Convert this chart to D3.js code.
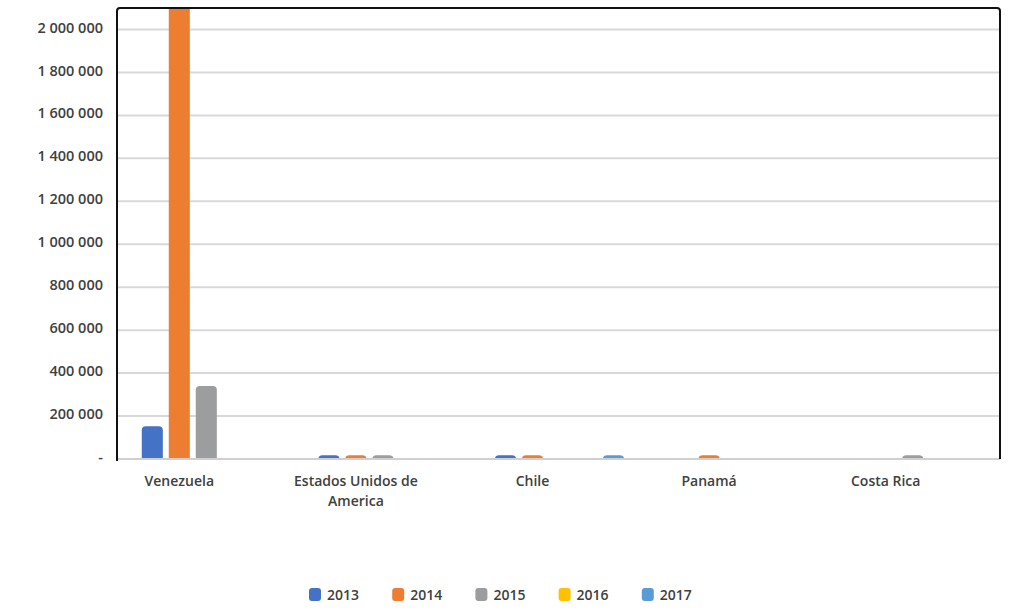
<!DOCTYPE html>
<html>
<head>
<meta charset="utf-8">
<script src="https://cdn.jsdelivr.net/npm/d3@7"></script>
<style>
  body { margin: 0; background: #fff; }
  text { font-family: "Open Sans", sans-serif; font-weight: 600; fill: #404040; }
</style>
</head>
<body>
<div id="chart"></div>
<script>
const countries = ["Venezuela", "Estados Unidos de America", "Chile", "Panamá", "Costa Rica"];
const years = ["2013", "2014", "2015", "2016", "2017"];
// one array per year, in the order of countries
const v2013 = [153000, 18000, 18000, 0, 0];
const v2014 = [2400000, 18000, 18000, 18000, 0];
const v2015 = [340000, 18000, 0, 0, 18000];
const v2016 = [0, 0, 0, 0, 0];
const v2017 = [0, 0, 18000, 0, 0];
const yTicks = [0, 200000, 400000, 600000, 800000, 1000000, 1200000, 1400000, 1600000, 1800000, 2000000];

const color = {
  "2013": "#4472c4",
  "2014": "#ed7d31",
  "2015": "#9b9d9e",
  "2016": "#ffc000",
  "2017": "#5b9bd5",
};

const series = { "2013": v2013, "2014": v2014, "2015": v2015, "2016": v2016, "2017": v2017 };
const rows = [];
countries.forEach((c, i) => years.forEach((yr) => rows.push({ country: c, year: yr, value: series[yr][i] })));

const width = 1021, height = 612,
  plotLeft = 117, plotRight = 1000, plotTop = 8, plotBottom = 459;

const svg = d3.select("#chart").append("svg").attr("width", width).attr("height", height);

const x = d3.scaleBand().domain(countries).range([91, 974]);
const xi = d3.scaleBand().domain(years).range([-40.5, 94.5]).paddingInner(0.22).paddingOuter(0.11);
const y = d3.scaleLinear().domain([0, 2100000]).range([plotBottom, plotTop]);

svg.append("defs").append("clipPath").attr("id", "plot-clip")
  .append("rect").attr("x", plotLeft).attr("y", plotTop).attr("width", plotRight - plotLeft).attr("height", plotBottom - plotTop - 1);

// grid
svg.append("g")
  .selectAll("line")
  .data(yTicks.filter((d) => d > 0))
  .enter()
  .append("line")
  .attr("x1", plotLeft).attr("x2", plotRight)
  .attr("y1", (d) => y(d)).attr("y2", (d) => y(d))
  .attr("stroke", "#d9d9d9").attr("stroke-width", 2);

// y labels
svg.append("g")
  .selectAll("text")
  .data(yTicks)
  .enter()
  .append("text")
  .attr("x", 103)
  .attr("y", (d) => y(d) - 2)
  .attr("dy", "0.35em")
  .attr("text-anchor", "end")
  .attr("font-size", 14.5)
  .text((d) => (d === 0 ? "-" : d3.format(",")(d).replace(/,/g, " ")));

// baseline
svg.append("line").attr("x1", plotLeft).attr("x2", plotRight).attr("y1", plotBottom).attr("y2", plotBottom)
  .attr("stroke", "#d0d0d0").attr("stroke-width", 2);

// bars
const bars = svg.append("g").attr("clip-path", "url(#plot-clip)");
bars.selectAll("rect")
  .data(rows.filter((d) => d.value > 0))
  .enter()
  .append("rect")
  .attr("x", (d) => x(d.country) + x.bandwidth() / 2 + xi(d.year))
  .attr("y", (d) => y(d.value))
  .attr("width", xi.bandwidth())
  .attr("height", (d) => plotBottom - y(d.value) + 4)
  .attr("rx", 4)
  .attr("fill", (d) => color[d.year]);

// frame
svg.append("path")
  .attr("d", `M${plotLeft},${plotBottom + 2} L${plotLeft},${plotTop + 3} Q${plotLeft},${plotTop} ${plotLeft + 3},${plotTop} L${plotRight - 3},${plotTop} Q${plotRight},${plotTop} ${plotRight},${plotTop + 3} L${plotRight},${plotBottom}`)
  .attr("fill", "none").attr("stroke", "#111").attr("stroke-width", 2);

// category labels
const cat = svg.append("g")
  .selectAll("text")
  .data(countries)
  .enter()
  .append("text")
  .attr("x", (d) => x(d) + x.bandwidth() / 2)
  .attr("y", 486)
  .attr("text-anchor", "middle")
  .attr("font-size", 14);
cat.each(function (d) {
  const lines = d === "Estados Unidos de America" ? ["Estados Unidos de", "America"] : [d];
  d3.select(this).selectAll("tspan").data(lines).enter().append("tspan")
    .attr("x", x(d) + x.bandwidth() / 2)
    .attr("dy", (l, i) => (i === 0 ? 0 : 20))
    .text((l) => l);
});

// legend
const legend = svg.append("g")
  .selectAll("g")
  .data(years)
  .enter()
  .append("g")
  .attr("transform", (d, i) => `translate(${309 + i * 83.2},0)`);
legend.append("rect").attr("x", 0).attr("y", 588).attr("width", 12).attr("height", 13).attr("rx", 3).attr("fill", (d) => color[d]);
legend.append("text").attr("x", 18).attr("y", 600).attr("font-size", 14).text((d) => d);
</script>
</body>
</html>
